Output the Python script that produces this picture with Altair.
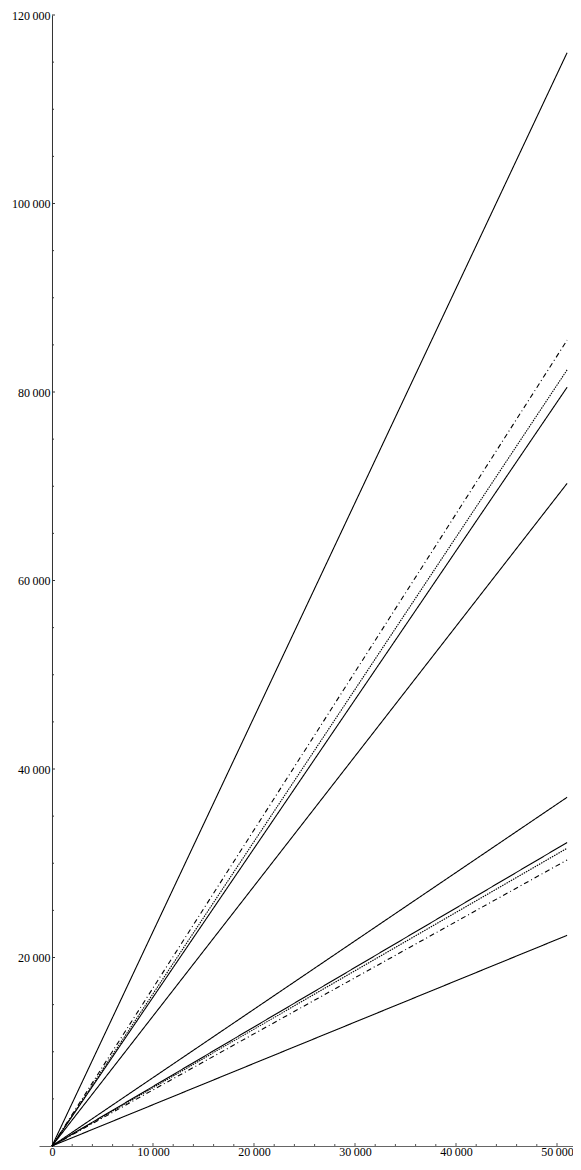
import altair as alt
import pandas as pd

# ---- data ----
series = ["a", "b", "c", "d", "e", "f", "g", "h", "i", "j"]
end_x = 51000
end_y = [116000, 85500, 82350, 80500, 70300, 37000, 32200, 31600, 30350, 22350]
styles = ["solid", "dashdot", "dotted", "solid", "solid",
          "solid", "solid", "dotted", "dashdot", "solid"]

x_major = [10000, 20000, 30000, 40000, 50000]
x_minor = [2000, 4000, 6000, 8000, 12000, 14000, 16000, 18000, 22000, 24000,
           26000, 28000, 32000, 34000, 36000, 38000, 42000, 44000, 46000, 48000]
y_major = [20000, 40000, 60000, 80000, 100000, 120000]
y_minor = [5000, 10000, 15000, 25000, 30000, 35000, 45000, 50000, 55000,
           65000, 70000, 75000, 85000, 90000, 95000, 105000, 110000, 115000]

# ---- layout ----
W, H = 534, 1131
XMIN, XMAX = -1287, 51584
YMIN, YMAX = 0, 120000
PAD_L, PAD_T, PAD_B = 31, 7, 12
y_axis_offset = -(0 - XMIN) / (XMAX - XMIN) * W

rows = []
for s, e, st in zip(series, end_y, styles):
    rows.append({"series": s, "style": st, "x": 0, "y": 0})
    rows.append({"series": s, "style": st, "x": end_x, "y": e})
lines_df = pd.DataFrame(rows)

xs = alt.Scale(domain=[XMIN, XMAX], nice=False, zero=False)
ys = alt.Scale(domain=[YMIN, YMAX], nice=False)

label_expr = "replace(format(datum.value, ','), ',', '\u2009')"
FONT = "Liberation Serif"

x_axis = alt.Axis(values=[0] + x_major, labelExpr=label_expr, ticks=False,
                  grid=False, domainColor="#666666", domainWidth=1,
                  labelFont=FONT, labelFontSize=12, labelColor="black",
                  labelPadding=0, labelOverlap=False, labelFlush=False)
y_axis = alt.Axis(values=y_major, labelExpr=label_expr, ticks=False,
                  grid=False, domainColor="#333333", domainWidth=1,
                  labelFont=FONT, labelFontSize=12, labelColor="black",
                  labelPadding=2, labelOverlap=False, labelFlush=False,
                  offset=y_axis_offset)

lines = alt.Chart(lines_df).mark_line(color="black", strokeWidth=1.1).encode(
    x=alt.X("x:Q", scale=xs, axis=x_axis, title=None),
    y=alt.Y("y:Q", scale=ys, axis=y_axis, title=None),
    detail="series:N",
    strokeDash=alt.StrokeDash(
        "style:N",
        scale=alt.Scale(domain=["solid", "dashdot", "dotted"],
                        range=[[1, 0], [5, 3, 1, 3], [1.5, 1]]),
        legend=None),
)

# inward tick marks
XT_MAJ, XT_MIN = 3 / H * (YMAX - YMIN), 2 / H * (YMAX - YMIN)
YT_MAJ, YT_MIN = 3 / W * (XMAX - XMIN), 2 / W * (XMAX - XMIN)

xt_df = pd.DataFrame({"x": x_major + x_minor,
                      "base": 0,
                      "len": [XT_MAJ] * len(x_major) + [XT_MIN] * len(x_minor)})
yt_df = pd.DataFrame({"y": y_major + y_minor,
                      "base": 0,
                      "len": [YT_MAJ] * len(y_major) + [YT_MIN] * len(y_minor)})

x_ticks = alt.Chart(xt_df).mark_rule(color="#555555", strokeWidth=1).encode(
    x=alt.X("x:Q", scale=xs, axis=x_axis, title=None),
    y=alt.Y("base:Q", scale=ys, axis=y_axis, title=None),
    y2="len:Q",
)
y_ticks = alt.Chart(yt_df).mark_rule(color="#333333", strokeWidth=1).encode(
    y=alt.Y("y:Q", scale=ys, axis=y_axis, title=None),
    x=alt.X("base:Q", scale=xs, axis=x_axis, title=None),
    x2="len:Q",
)

chart = alt.layer(lines, x_ticks, y_ticks).properties(
    width=W, height=H,
    autosize=alt.AutoSizeParams(type="none"),
    padding={"left": PAD_L, "top": PAD_T, "right": 0, "bottom": PAD_B},
    background="white",
).configure_view(strokeWidth=0)

chart.save("out.html", embed_options={"renderer": "svg", "actions": False})
